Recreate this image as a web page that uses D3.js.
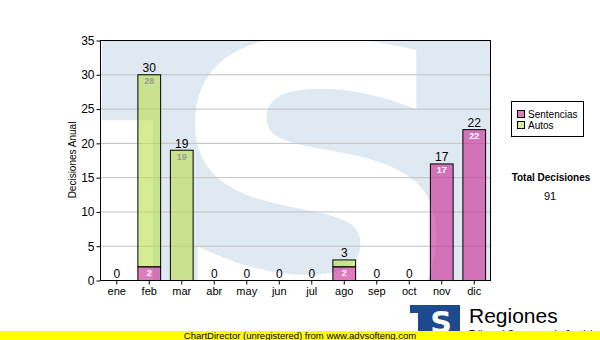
<!DOCTYPE html>
<html>
<head>
<meta charset="utf-8">
<script src="https://cdn.jsdelivr.net/npm/d3@7"></script>
<style>
  body { margin: 0; background: #fff; }
  text { font-family: "Liberation Sans", Arial, sans-serif; }
</style>
</head>
<body>
<script>
const width = 600;
const height = 340;
const margin = ({top: 40, right: 110, bottom: 60, left: 100});

const months = ["ene", "feb", "mar", "abr", "may", "jun", "jul", "ago", "sep", "oct", "nov", "dic"];
const sentencias = [0, 2, 0, 0, 0, 0, 0, 2, 0, 0, 17, 22];
const autos = [0, 28, 19, 0, 0, 0, 0, 1, 0, 0, 0, 0];
const seriesNames = ["Sentencias", "Autos"];
const yTicks = [0, 5, 10, 15, 20, 25, 30, 35];
const totalLabel = "Total Decisiones";

const colors = ["#ca2593", "#b9de4d"];
const legendColors = ["#df7cc0", "#d5eb94"];
const innerText = ["#ffffff", "#9a9a9a"];

let svg = null;
let x = null;
let y = null;

const rows = months.map((m, i) => ({month: m, Sentencias: sentencias[i], Autos: autos[i]}));
const stacked = d3.stack().keys(seriesNames)(rows);
const total = d3.sum(sentencias) + d3.sum(autos);

function initializeScales() {
    x = d3.scaleBand()
        .domain(months)
        .range([margin.left, width - margin.right])
        .paddingInner(0.3)
        .paddingOuter(0.15);

    y = d3.scaleLinear()
        .domain([0, 35])
        .range([height - margin.bottom, margin.top]);
}

function drawBackground() {
    const x0 = margin.left, x1 = width - margin.right;
    const y0 = margin.top, y1 = height - margin.bottom;

    svg.append("clipPath").attr("id", "plotclip")
        .append("rect")
        .attr("x", x0).attr("y", y0)
        .attr("width", x1 - x0).attr("height", y1 - y0);

    const wm = svg.append("g").attr("clip-path", "url(#plotclip)");
    wm.append("rect")
        .attr("x", x0 + 2).attr("y", y0)
        .attr("width", x1 - x0 - 2).attr("height", y1 - y0)
        .attr("fill", "#dfe9f2");
    // left white block of the watermark logo
    wm.append("rect")
        .attr("x", x0 + 2).attr("y", y(23.3))
        .attr("width", 51).attr("height", y1 - y(23.3))
        .attr("fill", "#fff");
    // big S of the watermark
    wm.append("text")
        .attr("transform", "translate(316,0) scale(1.09,1)")
        .attr("x", 0).attr("y", 322)
        .attr("text-anchor", "middle")
        .style("font-family", "'DejaVu Sans', sans-serif")
        .style("font-weight", "bold")
        .style("font-size", "385px")
        .attr("fill", "#fff")
        .text("S");

    // grid
    svg.append("g")
        .selectAll("line")
        .data(yTicks.slice(1, -1))
        .join("line")
        .attr("x1", x0).attr("x2", x1)
        .attr("y1", d => y(d) + 0.5).attr("y2", d => y(d) + 0.5)
        .attr("stroke", "#c0c0c0");
}

function drawBars() {
    const g = svg.append("g");
    stacked.forEach((layer, si) => {
        g.append("g")
            .selectAll("rect")
            .data(layer.filter(d => d[1] > d[0]))
            .join("rect")
            .attr("x", d => x(d.data.month) + 0.5)
            .attr("y", d => y(d[1]) + 0.5)
            .attr("width", x.bandwidth())
            .attr("height", d => y(d[0]) - y(d[1]))
            .attr("fill", colors[si])
            .attr("fill-opacity", 0.6)
            .attr("stroke", "#000")
            .attr("stroke-width", 1);

        g.append("g")
            .selectAll("text")
            .data(layer.filter(d => d[1] - d[0] >= 2))
            .join("text")
            .attr("x", d => x(d.data.month) + x.bandwidth() / 2 + 0.5)
            .attr("y", d => y(d[1]) + 10)
            .attr("text-anchor", "middle")
            .attr("font-size", 9)
            .attr("font-weight", "bold")
            .attr("fill", innerText[si])
            .text(d => d[1] - d[0]);
    });

    g.append("g")
        .selectAll("text")
        .data(rows)
        .join("text")
        .attr("x", d => x(d.month) + x.bandwidth() / 2 + 0.5)
        .attr("y", d => y(d.Sentencias + d.Autos) - 2)
        .attr("text-anchor", "middle")
        .attr("font-size", 12)
        .attr("fill", "#000")
        .text(d => d.Sentencias + d.Autos);
}

function drawAxes() {
    const x0 = margin.left, x1 = width - margin.right;
    const y0 = margin.top, y1 = height - margin.bottom;

    svg.append("rect")
        .attr("x", x0 + 0.5).attr("y", y0 + 0.5)
        .attr("width", x1 - x0).attr("height", y1 - y0)
        .attr("fill", "none")
        .attr("stroke", "#000");

    const yAxis = svg.append("g")
        .attr("transform", `translate(${x0 + 0.5},0.5)`)
        .call(d3.axisLeft(y).tickValues(yTicks).tickSize(4).tickPadding(2));
    yAxis.select(".domain").remove();
    yAxis.selectAll("text").attr("font-size", 12).attr("fill", "#000");

    const xAxis = svg.append("g")
        .attr("transform", `translate(0.5,${y1 + 0.5})`)
        .call(d3.axisBottom(x).tickSize(4).tickPadding(3));
    xAxis.select(".domain").remove();
    xAxis.selectAll("text").attr("font-size", 11).attr("fill", "#000");

    svg.append("text")
        .attr("transform", `translate(76,${(y0 + y1) / 2}) rotate(-90)`)
        .attr("text-anchor", "middle")
        .attr("font-size", 10)
        .text("Decisiones Anual");
}

function drawLegend() {
    const lg = svg.append("g").attr("transform", "translate(511,101)");
    lg.append("rect")
        .attr("x", 0.5).attr("y", 0.5)
        .attr("width", 72).attr("height", 35)
        .attr("fill", "#fff").attr("stroke", "#000");
    const item = lg.selectAll("g")
        .data(seriesNames)
        .join("g")
        .attr("transform", (d, i) => `translate(6,${9 + i * 11})`);
    item.append("rect")
        .attr("x", 0.5).attr("y", 0.5)
        .attr("width", 7).attr("height", 7)
        .attr("fill", (d, i) => legendColors[i]).attr("stroke", "#000");
    item.append("text")
        .attr("x", 11).attr("y", 8)
        .attr("font-size", 10)
        .text(d => d);

    svg.append("text")
        .attr("x", 551).attr("y", 181)
        .attr("text-anchor", "middle")
        .attr("font-size", 10)
        .attr("font-weight", "bold")
        .text(totalLabel);
    svg.append("text")
        .attr("x", 550).attr("y", 200)
        .attr("text-anchor", "middle")
        .attr("font-size", 11)
        .text(total);
}

function drawFooter() {
    // logo
    const logo = svg.append("g");
    logo.append("rect")
        .attr("x", 410).attr("y", 305)
        .attr("width", 50).attr("height", 30)
        .attr("fill", "#1c4a8c");
    logo.append("rect")
        .attr("x", 410).attr("y", 313)
        .attr("width", 8).attr("height", 20)
        .attr("fill", "#fff");
    logo.append("text")
        .attr("x", 441).attr("y", 333)
        .attr("text-anchor", "middle")
        .style("font-family", "'DejaVu Sans', sans-serif")
        .style("font-size", "30px")
        .style("font-weight", "bold")
        .attr("fill", "#fff")
        .text("S");
    logo.append("text")
        .attr("x", 469).attr("y", 323)
        .attr("font-size", 21)
        .attr("fill", "#000")
        .text("Regiones");
    logo.append("text")
        .attr("x", 469).attr("y", 338)
        .attr("font-size", 10)
        .attr("fill", "#000")
        .text("Tribunal Supremo de Justicia");

    svg.append("rect")
        .attr("x", 0).attr("y", 331)
        .attr("width", width).attr("height", 9)
        .attr("fill", "#ffff00");
    svg.append("text")
        .attr("x", 300).attr("y", 339)
        .attr("text-anchor", "middle")
        .attr("font-size", 9.5)
        .attr("fill", "#000")
        .text("ChartDirector (unregistered) from www.advsofteng.com");
}

svg = d3.select("body")
    .append("svg")
    .attr("width", width)
    .attr("height", height);

initializeScales();
drawBackground();
drawBars();
drawAxes();
drawLegend();
drawFooter();
</script>
</body>
</html>
